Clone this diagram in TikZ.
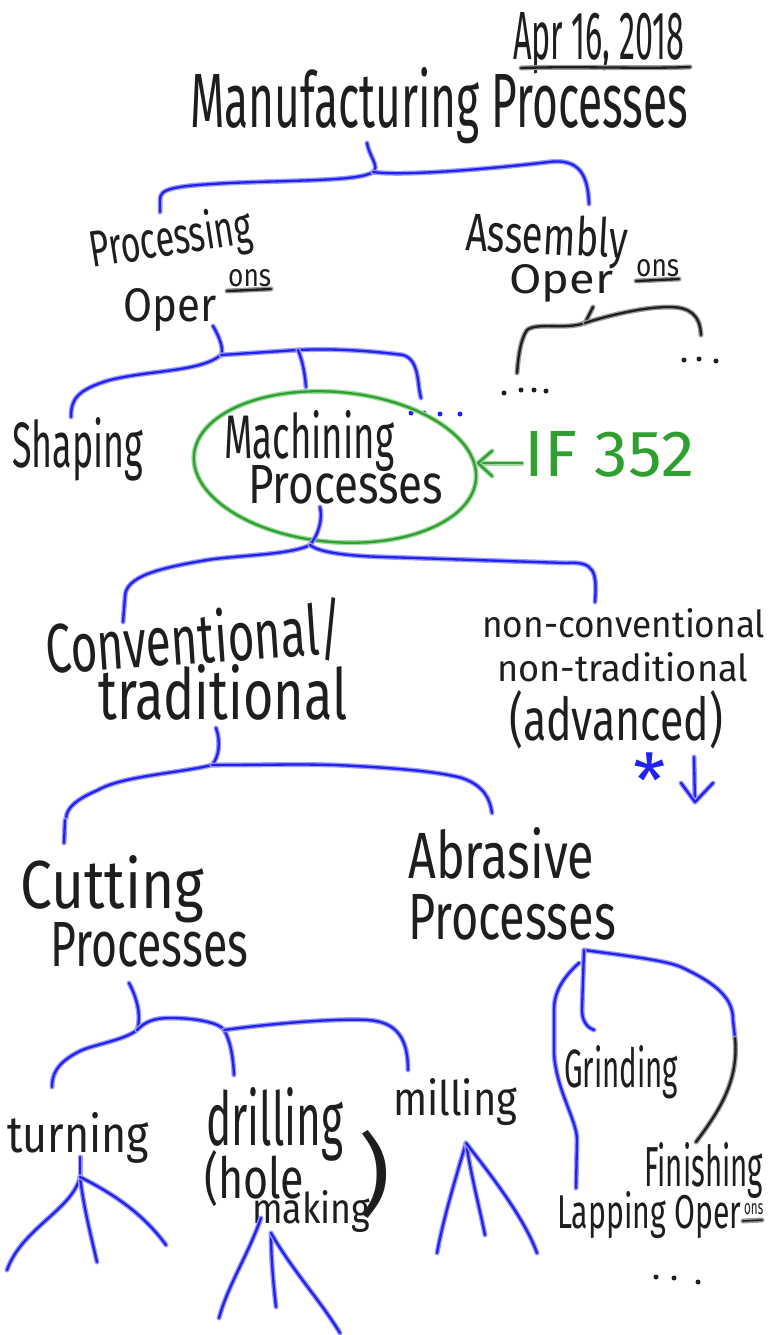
\documentclass[tikz,border=0pt]{standalone}
\usepackage{graphicx}
\usepackage{fontspec}
\setmainfont{Fira Sans}
\usetikzlibrary{shapes.geometric}
\definecolor{penblue}{HTML}{2222F0}
\definecolor{bluehalo}{HTML}{9A9AFF}
\definecolor{pengreen}{HTML}{2FA02F}
\definecolor{greenhalo}{HTML}{9ED89E}
\definecolor{penblack}{HTML}{1E1E1E}
\definecolor{blackhalo}{HTML}{9A9A9A}
\newcommand\hwtext[3]{\resizebox{#1pt}{#2pt}{#3}}
\tikzset{
  txt/.style={inner sep=0pt, anchor=base west, text=penblack},
  gtxt/.style={inner sep=0pt, anchor=base west, text=pengreen},
  bluepen/.style={draw=penblue, line width=2.3pt, line cap=round, line join=round,
    preaction={draw=bluehalo, line width=5pt, line cap=round, line join=round}},
  blackpen/.style={draw=penblack, line width=2.3pt, line cap=round, line join=round,
    preaction={draw=blackhalo, line width=5pt, line cap=round, line join=round}},
  greenpen/.style={draw=pengreen, line width=2.3pt, line cap=round, line join=round,
    preaction={draw=greenhalo, line width=5pt, line cap=round, line join=round}},
  dotk/.style={fill=penblack, circle, inner sep=0pt, minimum size=5pt},
  dotb/.style={fill=penblue, circle, inner sep=0pt, minimum size=5pt},
}
\begin{document}
\begin{tikzpicture}[x=1pt,y=-1pt]
\fill[white] (0,0) rectangle (768,1335);
\useasboundingbox (0,0) rectangle (768,1335);

% ---------- texts ----------
\node[txt] (date) at (513,60) {\hwtext{171}{47}{Apr 16, 2018}};
\coordinate (dul1) at (521,68); \coordinate (dul2) at (690,67);
\node[txt] (title) at (190,128) {\hwtext{498}{60}{Manufacturing Processes}};

\node[txt, rotate=9] (proc1) at (92,268) {\hwtext{164}{40}{Processing}};
\node[txt] (proc2) at (123,321) {\hwtext{93}{33}{Oper}};
\node[txt] (procs) at (228,286) {\hwtext{43}{17}{ons}};
\coordinate (pul1) at (227,291); \coordinate (pul2) at (271,289);

\node[txt, rotate=-3] (asm1) at (465,250) {\hwtext{162}{40}{Assembly}};
\node[txt] (asm2) at (509,293) {\hwtext{104}{29}{Oper}};
\node[txt] (asms) at (636,276) {\hwtext{43}{17}{ons}};
\coordinate (aul1) at (636,281); \coordinate (aul2) at (679,279);

\node[txt] (shap) at (12,467) {\hwtext{131}{50}{Shaping}};
\node[txt] (mach1) at (224,458) {\hwtext{170}{48}{Machining}};
\node[txt] (mach2) at (248,503) {\hwtext{195}{38}{Processes}};
\node[gtxt] (course) at (524,476) {\hwtext{170}{45}{IF 352}};

\node[txt, rotate=4] (conv1) at (47,674) {\hwtext{298}{56}{Conventional/}};
\node[txt] (conv2) at (98,719) {\hwtext{249}{55}{traditional}};
\node[txt] (non1) at (482,637) {\hwtext{283}{29}{non-conventional}};
\node[txt] (non2) at (497,681) {\hwtext{251}{29}{non-traditional}};
\node[txt] (non3) at (509,740) {\hwtext{214}{50}{(advanced)}};
\node[inner sep=0pt, text=penblue] (star) at (650,780) {\fontsize{74}{74}\selectfont *};

\node[txt] (cut1) at (20,908) {\hwtext{184}{53}{Cutting}};
\node[txt] (cut2) at (50,966) {\hwtext{198}{44}{Processes}};
\node[txt] (abr1) at (408,878) {\hwtext{186}{51}{Abrasive}};
\node[txt] (abr2) at (408,939) {\hwtext{208}{45}{Processes}};

\node[txt] (turn) at (7,1152) {\hwtext{142}{40}{turning}};
\node[txt] (dril) at (206,1145) {\hwtext{137}{58}{drilling}};
\node[txt] (hole) at (204,1198) {\hwtext{100}{48}{(hole}};
\node[txt] (mak) at (252,1223) {\hwtext{118}{33}{making}};
\node[txt] (rpar) at (358,1205) {\hwtext{32}{75}{)}};
\node[txt] (mill) at (393,1115) {\hwtext{124}{37}{milling}};
\node[txt] (grin) at (564,1087) {\hwtext{114}{42}{Grinding}};
\node[txt] (fini) at (644,1186) {\hwtext{119}{44}{Finishing}};
\node[txt] (lap) at (557,1228) {\hwtext{184}{37}{Lapping Oper}};
\node[txt] (laps) at (744,1214) {\hwtext{19}{11}{ons}};
\coordinate (lul1) at (743,1221); \coordinate (lul2) at (762,1220);

% underlines
\draw[blackpen] (dul1) .. controls (580,66) and (640,69) .. (dul2);
\draw[blackpen] (pul1) -- (pul2);
\draw[blackpen] (aul1) -- (aul2);
\draw[blackpen, line width=1.6pt] (lul1) -- (lul2);

% dots
\node[dotk] (dk1) at (504,393) {}; \node[dotk] (dk2) at (521,390) {};
\node[dotk] (dk3) at (534,390) {}; \node[dotk] (dk4) at (546,391) {};
\node[dotk] (dk5) at (684,360) {}; \node[dotk] (dk6) at (699,359) {};
\node[dotk] (dk7) at (716,361) {};
\node[dotb] (db1) at (411,413) {}; \node[dotb] (db2) at (424,413) {};
\node[dotb] (db3) at (440,414) {}; \node[dotb] (db4) at (460,414) {};
\node[dotk] (dk8) at (656,1277) {}; \node[dotk] (dk9) at (674,1278) {};
\node[dotk] (dk10) at (698,1282) {};

% ---------- green ellipse and arrow ----------
\node[greenpen, ellipse, minimum width=283pt, minimum height=150pt, rotate=-5] (ring) at (335,467) {};
\coordinate (ga0) at (522,463); \coordinate (ga1) at (478,463);
\coordinate (gh1) at (492,451); \coordinate (gh2) at (492,476);
\draw[greenpen] (ga0) -- (ga1);
\draw[greenpen] (gh1) -- (ga1) -- (gh2);

% ---------- brace A: title ----------
\coordinate (a0) at (367,143); \coordinate (aj) at (373,172);
\coordinate (al) at (160,212); \coordinate (ar) at (589,204);
\draw[bluepen] (a0) .. controls (369,156) and (380,167) .. (aj);
\draw[bluepen] (aj) .. controls (360,181) and (300,180) .. (230,183)
   .. controls (170,186) and (160,189) .. (160,200) -- (al);
\draw[bluepen] (aj) .. controls (400,176) and (480,170) .. (549,162)
   .. controls (580,158) and (588,176) .. (ar);

% ---------- brace B: processing ----------
\coordinate (b0) at (213,326); \coordinate (bj) at (221,355);
\coordinate (bl) at (71,417); \coordinate (bm) at (298,350);
\coordinate (bme) at (306,387); \coordinate (br) at (421,398);
\draw[bluepen] (b0) .. controls (220,338) and (224,350) .. (bj);
\draw[bluepen] (bj) .. controls (200,372) and (150,370) .. (110,380)
   .. controls (76,390) and (71,400) .. (bl);
\draw[bluepen] (bj) -- (bm);
\draw[bluepen] (bm) .. controls (340,348) and (380,352) .. (403,355)
   .. controls (420,360) and (417,385) .. (br);
\draw[bluepen] (bm) .. controls (303,362) and (305,375) .. (bme);

% ---------- brace (black): assembly ----------
\coordinate (c0) at (593,307); \coordinate (cj) at (585,323);
\coordinate (cl) at (517,373); \coordinate (cr) at (701,335);
\draw[blackpen] (c0) -- (cj);
\draw[blackpen] (cj) .. controls (565,330) and (537,322) .. (527,330)
   .. controls (520,340) and (518,360) .. (cl);
\draw[blackpen] (cj) .. controls (600,318) and (640,307) .. (669,307)
   .. controls (690,307) and (700,315) .. (cr);

% ---------- brace C: machining ----------
\coordinate (d0) at (320,507); \coordinate (dj) at (310,545);
\coordinate (dl) at (123,622); \coordinate (dr) at (595,602);
\draw[bluepen] (d0) .. controls (323,520) and (318,535) .. (dj);
\draw[bluepen] (dj) .. controls (290,555) and (240,555) .. (207,560)
   .. controls (160,568) and (125,576) .. (125,597) -- (dl);
\draw[bluepen] (dj) .. controls (320,553) and (350,556) .. (384,557)
   -- (566,563) .. controls (595,561) and (597,572) .. (dr);

% ---------- star and arrow ----------
\coordinate (ba0) at (694,757); \coordinate (ba1) at (695,802);
\coordinate (bh1) at (681,783); \coordinate (bh2) at (713,783);
\draw[bluepen] (ba0) -- (ba1);
\draw[bluepen] (bh1) -- (ba1) -- (bh2);

% ---------- brace D: conventional ----------
\coordinate (e0) at (216,728); \coordinate (ej) at (212,765);
\coordinate (el) at (66,818); \coordinate (er) at (492,813);
\draw[bluepen] (e0) .. controls (221,742) and (219,757) .. (ej);
\draw[bluepen] (ej) .. controls (180,773) and (122,776) .. (98,790)
   .. controls (75,800) and (67,808) .. (el);
\draw[bluepen] (ej) .. controls (260,765) and (300,764) .. (335,765)
   .. controls (400,768) and (440,772) .. (462,778)
   .. controls (485,786) and (490,800) .. (er);
\coordinate (cs0) at (65,820); \coordinate (cs1) at (64,843);
\draw[bluepen] (cs0) -- (cs1);

% ---------- brace E: cutting ----------
\coordinate (f0) at (129,983); \coordinate (fj) at (137,1030);
\coordinate (fl) at (52,1087); \coordinate (fm) at (224,1030);
\coordinate (fme) at (234,1075); \coordinate (fr) at (408,1070);
\draw[bluepen] (f0) .. controls (136,996) and (142,1015) .. (fj);
\draw[bluepen] (fj) .. controls (125,1040) and (92,1045) .. (80,1051)
   .. controls (56,1063) and (52,1075) .. (fl);
\draw[bluepen] (fj) .. controls (145,1022) and (153,1018) .. (170,1018)
   .. controls (200,1018) and (221,1024) .. (fm);
\draw[bluepen] (fm) .. controls (230,1040) and (233,1055) .. (fme);
\draw[bluepen] (fm) .. controls (260,1025) and (330,1018) .. (368,1020)
   .. controls (398,1022) and (408,1040) .. (fr);

% ---------- fans ----------
\coordinate (g0) at (80,1157); \coordinate (gj) at (80,1177);
\coordinate (g1) at (7,1270); \coordinate (g2) at (97,1262); \coordinate (g3) at (166,1245);
\draw[bluepen] (g0) -- (gj);
\draw[bluepen] (gj) .. controls (72,1210) and (22,1228) .. (g1);
\draw[bluepen] (gj) .. controls (84,1210) and (92,1240) .. (g2);
\draw[bluepen] (gj) .. controls (110,1192) and (142,1212) .. (g3);

\coordinate (h0) at (261,1218); \coordinate (h1) at (219,1318);
\coordinate (hj) at (271,1233); \coordinate (h2) at (276,1307); \coordinate (h3) at (340,1333);
\draw[bluepen] (h0) .. controls (248,1255) and (228,1285) .. (h1);
\draw[bluepen] (hj) .. controls (271,1260) and (274,1290) .. (h2);
\draw[bluepen] (hj) .. controls (292,1270) and (320,1300) .. (h3);

\coordinate (m0) at (466,1143); \coordinate (m1) at (437,1253);
\coordinate (m2) at (485,1235); \coordinate (m3) at (537,1253);
\draw[bluepen] (m0) .. controls (455,1180) and (443,1220) .. (m1);
\draw[bluepen] (m0) .. controls (472,1180) and (480,1210) .. (m2);
\draw[bluepen] (m0) .. controls (495,1180) and (525,1220) .. (m3);

% ---------- abrasive brace ----------
\coordinate (k0) at (584,950); \coordinate (kb) at (735,1038);
\coordinate (kf) at (696,1142); \coordinate (kg) at (594,1030);
\coordinate (kl0) at (579,963); \coordinate (kl) at (576,1188);
\draw[bluepen] (k0) .. controls (620,955) and (665,960) .. (681,967)
   .. controls (720,985) and (733,1000) .. (733,1020) -- (kb);
\draw[blackpen] (kb) .. controls (739,1080) and (720,1110) .. (kf);
\draw[bluepen] (k0) -- (582,1010) .. controls (582,1022) and (588,1028) .. (kg);
\draw[bluepen] (kl0) .. controls (560,980) and (554,995) .. (554,1010) -- (554,1053)
   .. controls (556,1090) and (577,1120) .. (577,1140) -- (kl);
\end{tikzpicture}
\end{document}
